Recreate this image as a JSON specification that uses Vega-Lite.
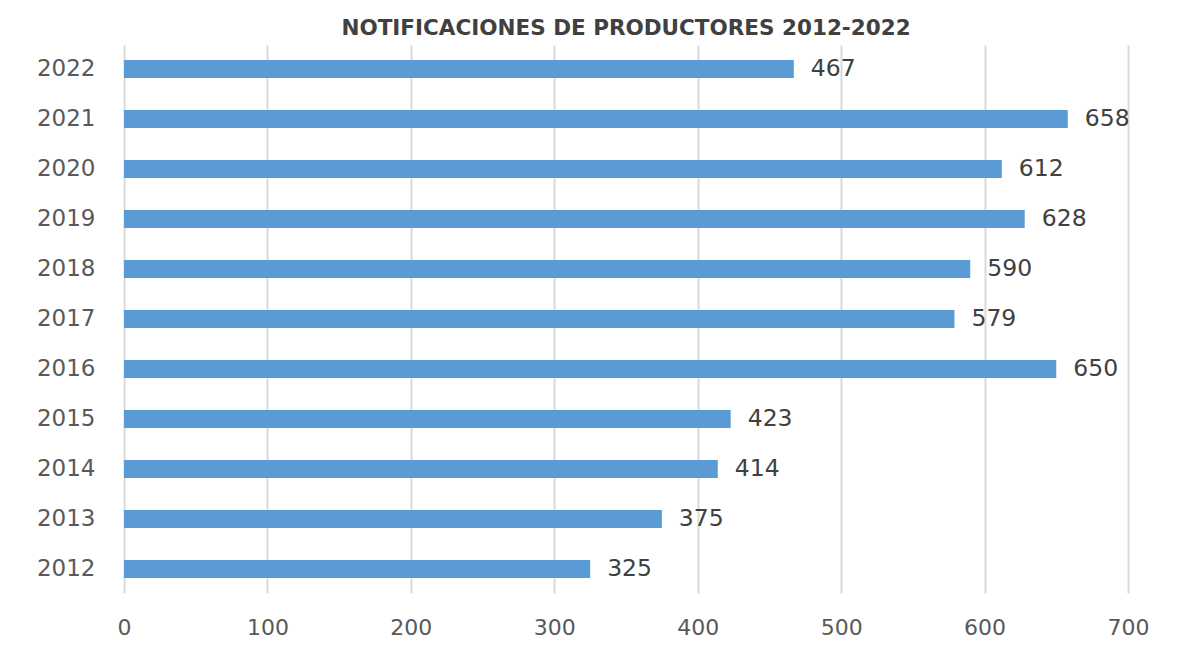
{
  "$schema": "https://vega.github.io/schema/vega-lite/v6.json",
  "autosize": {"type": "none"},
  "width": 1004,
  "height": 548,
  "padding": {"left": 124, "top": 45, "right": 63, "bottom": 71},
  "background": "white",
  "title": {"text": "NOTIFICACIONES DE PRODUCTORES 2012-2022", "font": "DejaVu Sans", "fontSize": 21.5, "fontWeight": "bold", "color": "#404040", "anchor": "middle", "offset": 6},
  "data": {"values": [
    {"year": "2022", "value": 467},
    {"year": "2021", "value": 658},
    {"year": "2020", "value": 612},
    {"year": "2019", "value": 628},
    {"year": "2018", "value": 590},
    {"year": "2017", "value": 579},
    {"year": "2016", "value": 650},
    {"year": "2015", "value": 423},
    {"year": "2014", "value": 414},
    {"year": "2013", "value": 375},
    {"year": "2012", "value": 325}
  ]},
  "encoding": {
    "y": {"field": "year", "type": "nominal", "sort": "descending", "title": null,
      "scale": {"paddingInner": 0.64, "paddingOuter": 0.3},
      "axis": {"domain": false, "ticks": false, "grid": false, "labelFont": "DejaVu Sans", "labelFontSize": 23, "labelColor": "#595959", "labelPadding": 29}},
    "x": {"field": "value", "type": "quantitative", "title": null,
      "scale": {"domain": [0, 700], "nice": false},
      "axis": {"values": [0,100,200,300,400,500,600,700], "domain": false, "ticks": false, "grid": true, "gridColor": "#d9d9d9", "gridWidth": 2, "labelFlush": false, "labelFont": "DejaVu Sans", "labelFontSize": 22, "labelColor": "#595959", "labelPadding": 24}}
  },
  "layer": [
    {"mark": {"type": "bar", "color": "#5B9BD5"}},
    {"mark": {"type": "text", "align": "left", "dx": 17, "font": "DejaVu Sans", "fontSize": 23.5, "color": "#404040"}, "encoding": {"text": {"field": "value"}}}
  ],
  "config": {"view": {"stroke": null}}
}
